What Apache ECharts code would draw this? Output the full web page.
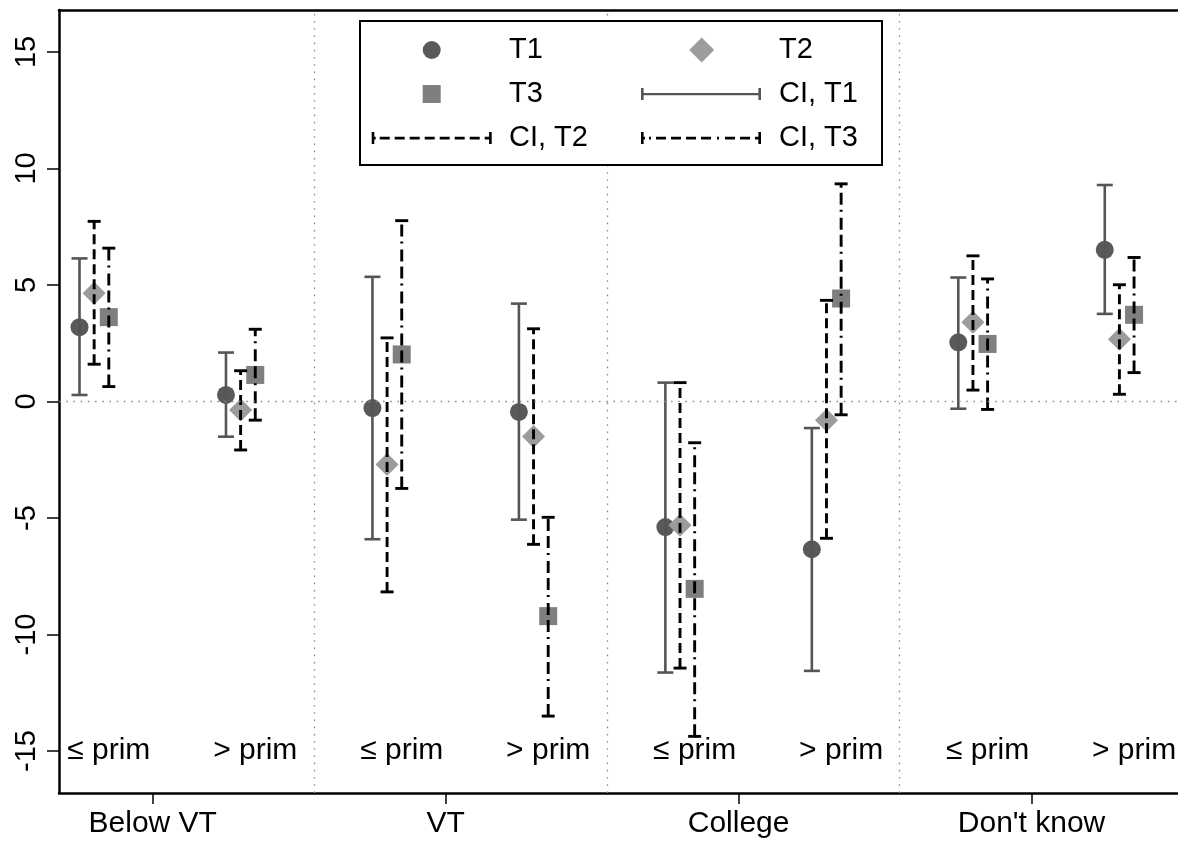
<!DOCTYPE html>
<html>
<head>
<meta charset="utf-8">
<script src="https://cdn.jsdelivr.net/npm/echarts@6/dist/echarts.min.js"></script>
<style>html,body{margin:0;padding:0;background:#fff;}#c{width:1178px;height:842px;}</style>
</head>
<body>
<div id="c"></div>
<script>
// ---- data ----
const categories = ['Below VT', 'VT', 'College', "Don't know"];
const catPos = [1, 2, 3, 4];
const subgroups = ['\u2264 prim', '> prim'];
const subOffset = [-0.2, 0.3];
const seriesOffset = [-0.05, 0, 0.05];
const separators = [1.55, 2.55, 3.55];
const yTicks = [-15, -10, -5, 0, 5, 10, 15];
const subLabelY = -15;

// order: BelowVT<=, BelowVT>, VT<=, VT>, College<=, College>, DK<=, DK>
const t1Est = [3.19, 0.28, -0.28, -0.45, -5.39, -6.34, 2.54, 6.51];
const t1Lo  = [0.28, -1.51, -5.91, -5.07, -11.63, -11.56, -0.31, 3.76];
const t1Hi  = [6.14, 2.10, 5.35, 4.20, 0.81, -1.14, 5.32, 9.29];
const t2Est = [4.65, -0.37, -2.70, -1.50, -5.31, -0.80, 3.40, 2.67];
const t2Lo  = [1.60, -2.08, -8.17, -6.13, -11.44, -5.87, 0.49, 0.31];
const t2Hi  = [7.73, 1.32, 2.73, 3.12, 0.81, 4.34, 6.25, 5.01];
const t3Est = [3.62, 1.14, 2.02, -9.21, -8.04, 4.42, 2.47, 3.72];
const t3Lo  = [0.64, -0.80, -3.73, -13.50, -14.37, -0.57, -0.34, 1.24];
const t3Hi  = [6.58, 3.10, 7.76, -4.97, -1.77, 9.34, 5.26, 6.18];

// ---- helpers ----
const FONT = 'Liberation Sans, Arial, Helvetica, sans-serif';
function xPos(i, s) {
  return catPos[Math.floor(i / 2)] + subOffset[i % 2] + seriesOffset[s];
}
function pts(est, s) { return est.map((v, i) => [xPos(i, s), v]); }
function ci(lo, hi, s) { return lo.map((v, i) => [xPos(i, s), v, hi[i]]); }

const subLabelData = [];
catPos.forEach((c) => subgroups.forEach((g, gi) => {
  subLabelData.push({ name: g, value: [c + subOffset[gi] + seriesOffset[2], subLabelY] });
}));

function errRender(color, width, dash, capHalf) {
  return function (params, api) {
    const x = api.value(0);
    const a = api.coord([x, api.value(1)]);
    const b = api.coord([x, api.value(2)]);
    const st = { stroke: color, lineWidth: width, lineDash: dash, fill: null };
    const cst = { stroke: color, lineWidth: width, fill: null };
    return {
      type: 'group',
      children: [
        { type: 'line', shape: { x1: a[0], y1: a[1], x2: b[0], y2: b[1] }, style: st },
        { type: 'line', shape: { x1: a[0] - capHalf, y1: a[1], x2: a[0] + capHalf, y2: a[1] }, style: cst },
        { type: 'line', shape: { x1: b[0] - capHalf, y1: b[1], x2: b[0] + capHalf, y2: b[1] }, style: cst }
      ]
    };
  };
}

// legend icons (120 x 14 boxes)
function rect(x, y, w, h) { return 'M' + x + ',' + y + 'h' + w + 'v' + h + 'h' + (-w) + 'z'; }
const capL = rect(0, 1, 2.6, 12), capR = rect(117.4, 1, 2.6, 12);
const iconSolid = 'path://' + capL + rect(0, 5.9, 120, 2.4) + capR;
let dashP = capL + rect(0, 5.7, 4, 2.8);
[8, 23, 38, 53, 68, 83, 98].forEach(s => dashP += rect(s, 5.7, 10, 2.8));
dashP += rect(113, 5.7, 7, 2.8) + capR;
const iconDash = 'path://' + dashP;
let ddP = capL + rect(0, 5.7, 4, 2.8) + rect(8, 5.7, 2, 2.8);
[15, 30, 45, 60].forEach(s => ddP += rect(s, 5.7, 10, 2.8));
ddP += rect(76, 5.7, 2, 2.8) + rect(84, 5.7, 10, 2.8) + rect(99, 5.7, 10, 2.8) + rect(114, 5.7, 6, 2.8) + capR;
const iconDashDot = 'path://' + ddP;

// legend item: icon centred at cx, text starting at tx, row centred at cy
function lg(name, icon, cx, cy, w, h, tx, color) {
  const left = cx - w / 2;
  return {
    data: [{ name: name, icon: icon, itemStyle: { color: color, borderWidth: 0 } }],
    left: left, top: cy - 15, itemWidth: w, itemHeight: h, padding: 0,
    selectedMode: false, z: 10,
    textStyle: { fontSize: 29, color: '#000', fontFamily: FONT, lineHeight: 30,
                 padding: [0, 0, 0, tx - (left + w + 5)] }
  };
}

const chart = echarts.init(document.getElementById('c'), null, { renderer: 'canvas' });
chart.setOption({
  animation: false,
  backgroundColor: '#fff',
  grid: { left: 59, right: 0, top: 10, bottom: 49 },
  xAxis: [{
    type: 'value', min: 0.68, max: 4.5, position: 'bottom',
    axisLine: { show: true, onZero: false, lineStyle: { color: '#000', width: 2.5 } },
    axisTick: { show: true, length: 11, customValues: catPos, lineStyle: { color: '#000', width: 1.5 } },
    axisLabel: { customValues: catPos, formatter: v => categories[catPos.indexOf(v)], fontSize: 30, color: '#000', fontFamily: FONT, margin: 16 },
    splitLine: { show: false }
  }, {
    type: 'value', min: 0.68, max: 4.5, position: 'top',
    axisLine: { show: true, onZero: false, lineStyle: { color: '#000', width: 2.5 } },
    axisTick: { show: false }, axisLabel: { show: false }, splitLine: { show: false }
  }],
  yAxis: {
    type: 'value', min: -16.8, max: 16.8,
    axisLine: { show: true, onZero: false, lineStyle: { color: '#000', width: 2.5 } },
    axisTick: { show: true, length: 12, customValues: yTicks, lineStyle: { color: '#000', width: 1.5 } },
    axisLabel: { customValues: yTicks, rotate: 90, fontSize: 29, color: '#000', fontFamily: FONT, margin: 18 },
    splitLine: { show: false }
  },
  graphic: [{
    type: 'rect', z: 6, silent: true,
    shape: { x: 360, y: 21, width: 522, height: 144 },
    style: { fill: '#fff', stroke: '#000', lineWidth: 2 }
  }],
  legend: [
    lg('T1', 'circle', 431.7, 50, 18, 18, 509, '#595959'),
    lg('T2', 'diamond', 701.7, 50, 25, 25, 779, '#9c9c9c'),
    lg('T3', 'rect', 431.7, 94, 18, 18, 509, '#7f7f7f'),
    lg('CI, T1', iconSolid, 701, 94, 120, 14, 779, '#555'),
    lg('CI, T2', iconDash, 431.7, 138, 120, 14, 509, '#000'),
    lg('CI, T3', iconDashDot, 701, 138, 120, 14, 779, '#000')
  ],
  series: [
    {
      name: 'labels', type: 'scatter', z: 1, silent: true,
      symbolSize: 1, itemStyle: { color: 'rgba(0,0,0,0)', opacity: 1 },
      data: subLabelData,
      label: { show: true, position: 'inside', formatter: '{b}', fontSize: 30, color: '#000',
               opacity: 1, textBorderWidth: 0, fontFamily: FONT },
      markLine: {
        silent: true, symbol: ['none', 'none'], label: { show: false },
        lineStyle: { color: '#8c8c8c', type: [1.6, 5.6], width: 1.3, opacity: 1 },
        emphasis: { disabled: true },
        data: separators.map(v => ({ xAxis: v })).concat([{ yAxis: 0 }])
      }
    },
    { name: 'T1', type: 'scatter', z: 2, symbol: 'circle', symbolSize: 18, itemStyle: { color: '#595959', opacity: 1 }, data: pts(t1Est, 0) },
    { name: 'T2', type: 'scatter', z: 2, symbol: 'diamond', symbolSize: 23, itemStyle: { color: '#9c9c9c', opacity: 1 }, data: pts(t2Est, 1) },
    { name: 'T3', type: 'scatter', z: 2, symbol: 'rect', symbolSize: 18, itemStyle: { color: '#7f7f7f', opacity: 1 }, data: pts(t3Est, 2) },
    { name: 'CI, T1', type: 'custom', z: 3, itemStyle: { color: '#555' }, encode: { x: 0, y: [1, 2] },
      renderItem: errRender('#555', 2.6, null, 8), data: ci(t1Lo, t1Hi, 0) },
    { name: 'CI, T2', type: 'custom', z: 3, itemStyle: { color: '#000' }, encode: { x: 0, y: [1, 2] },
      renderItem: errRender('#000', 2.9, [10, 5], 6.5), data: ci(t2Lo, t2Hi, 1) },
    { name: 'CI, T3', type: 'custom', z: 3, itemStyle: { color: '#000' }, encode: { x: 0, y: [1, 2] },
      renderItem: errRender('#000', 2.9, [12, 5, 12, 6, 2, 5], 6.5), data: ci(t3Lo, t3Hi, 2) }
  ]
});
</script>
</body>
</html>
